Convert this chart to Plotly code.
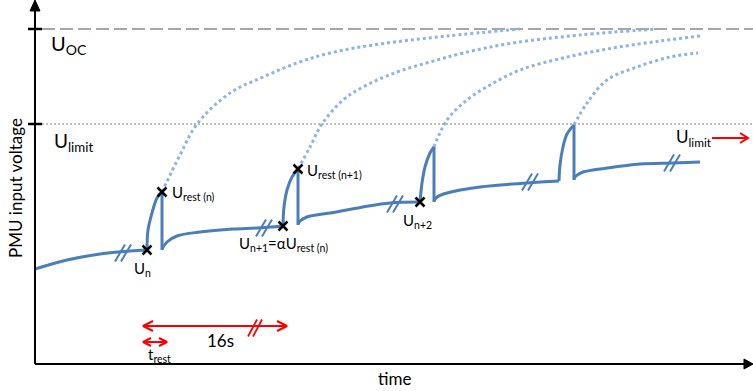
import plotly.graph_objects as go

# ---------------- data (px-like units: time →, voltage ↓ screen) ----
BLUE = "#4A7EBB"
LIGHT = "#8DB4E2"
GRAY = "#A6A6A6"
RED = "#FF0000"
FONT = "Lato"

AXIS_X = 35          # time origin
AXIS_Y = 364         # voltage origin (screen)
U_OC = 29
U_LIMIT = 124

# recovery (slow rise) segments
REC_T = [
    [35, 67, 100, 130, 147],
    [162, 167, 177, 200, 233, 257, 283],
    [298, 300, 307, 330, 363, 390, 420],
    [434, 437, 447, 480, 527, 559],
    [574, 576, 583, 607, 640, 673, 700],
]
REC_V = [
    [269, 260, 254, 251, 250],
    [249, 242, 236, 232, 229, 228, 226],
    [224, 221, 217, 213, 207, 203, 202],
    [201, 197, 193, 187, 183, 181],
    [179, 176, 172, 168, 164, 163, 162],
]
# charge spikes (fast rise during t_rest)
SPK_T = [
    [147, 148, 152, 157, 162],
    [283, 284, 287, 292, 298],
    [420, 422, 425, 430, 434],
    [559, 560, 563, 567, 574],
]
SPK_V = [
    [250, 230, 213, 198, 192],
    [226, 207, 190, 177, 169],
    [202, 183, 167, 153, 147],
    [181, 165, 147, 134, 125],
]
# voltage after the drop at the end of each rest
DROP_V = [250, 225, 202, 180]

# projected charging curves (dotted)
PROJ_T = [
    [162, 180, 197, 230, 263, 297, 330, 380, 447, 520],
    [298, 310, 322, 343, 363, 397, 430, 463, 513, 580, 657],
    [434, 447, 467, 490, 520, 563, 613, 660, 700],
    [574, 587, 607, 637, 670, 698],
]
PROJ_V = [
    [192, 155, 124, 93, 77, 63, 53, 44, 36, 29],
    [169, 147, 124, 100, 87, 72, 62, 53, 43, 35, 29],
    [147, 120, 100, 85, 70, 58, 48, 41, 36],
    [125, 103, 80, 67, 57, 53],
]

# marked points
MARK_T = [147, 162, 283, 298, 420]
MARK_V = [250, 192, 226, 169, 202]

# break symbols on the curve
BRK_T = [123, 264, 395, 530, 672]
BRK_V = [253, 228, 204, 182, 163]

# red interval arrows
ARR16_T = [143, 287]
ARR16_V = 326
ARR16_BRK = (255, 328)
TREST_T = [143, 167]
TREST_V = 342
ULIM_ARR_T = [712, 748]
ULIM_ARR_V = 138

fig = go.Figure()


def line(x, y, color, width, dash="solid", shape="linear", fill=None):
    fig.add_trace(go.Scatter(
        x=x, y=y, mode="lines", hoverinfo="skip", showlegend=False,
        line=dict(color=color, width=width, dash=dash, shape=shape),
        fill=fill, fillcolor=color if fill else None))


# reference levels
line([42, 753], [U_OC, U_OC], GRAY, 2, dash="13px,5px")
line([42, 753], [U_LIMIT, U_LIMIT], GRAY, 1.5, dash="2px,2px")

# projected dotted curves
for t, v in zip(PROJ_T, PROJ_V):
    line(t, v, LIGHT, 3, dash="dot", shape="spline")

# main curve
for t, v in zip(REC_T, REC_V):
    line(t, v, BLUE, 3, shape="spline")
for t, v, dv in zip(SPK_T, SPK_V, DROP_V):
    line(t, v, BLUE, 3, shape="spline")
    line([t[-1], t[-1]], [v[-1], dv], BLUE, 3)

# break symbols
for cx, cy in zip(BRK_T, BRK_V):
    for off in (-3, 3):
        line([cx - 5 + off, cx + 5 + off], [cy + 8.5, cy - 8.5], BLUE, 2)

# markers
fig.add_trace(go.Scatter(
    x=MARK_T, y=MARK_V, mode="markers", hoverinfo="skip", showlegend=False,
    marker=dict(symbol="x-thin", size=9, line=dict(color="black", width=2.5))))

# axes
line([AXIS_X, AXIS_X], [AXIS_Y, 9], "black", 2)
line([AXIS_X, 747], [AXIS_Y, AXIS_Y], "black", 2)
line([AXIS_X - 5, AXIS_X, AXIS_X + 5, AXIS_X - 5], [11, 0, 11, 11], "black", 1, fill="toself")
line([744, 753, 744, 744], [AXIS_Y - 5, AXIS_Y, AXIS_Y + 5, AXIS_Y - 5], "black", 1, fill="toself")
for lv in (U_OC, U_LIMIT):
    line([28, 42], [lv, lv], "black", 2.5)


# red arrows
def chevron(tx, ty, direction, dx, dy):
    line([tx - direction * dx, tx, tx - direction * dx], [ty - dy, ty, ty + dy], RED, 2)


line(ARR16_T, [ARR16_V, ARR16_V], RED, 2)
chevron(ARR16_T[0], ARR16_V, -1, 10, 5)
chevron(ARR16_T[1], ARR16_V, 1, 10, 5)
for off in (-2.5, 2.5):
    bx, by = ARR16_BRK
    line([bx - 4.5 + off, bx + 4.5 + off], [by + 8.5, by - 8.5], RED, 1.8)

line(TREST_T, [TREST_V, TREST_V], RED, 2)
chevron(TREST_T[0], TREST_V, -1, 8, 4)
chevron(TREST_T[1], TREST_V, 1, 8, 4)

line(ULIM_ARR_T, [ULIM_ARR_V, ULIM_ARR_V], RED, 2)
chevron(ULIM_ARR_T[1], ULIM_ARR_V, 1, 8, 5)

# labels
LABELS = [
    ("U<sub>OC</sub>", 49, 44, 20),
    ("U<sub>limit</sub>", 52, 142, 19),
    ("U<sub>limit</sub>", 674, 138, 17),
    ("U<sub>rest (n)</sub>", 170, 193, 15),
    ("U<sub>rest (n+1)</sub>", 305, 171, 15),
    ("U<sub>n</sub>", 132, 269, 15),
    ("U<sub>n+1</sub>=αU<sub>rest (n)</sub>", 237, 244, 15),
    ("U<sub>n+2</sub>", 401, 221, 15),
    ("16s", 205, 340, 17),
    ("t<sub>rest</sub>", 146, 355, 15),
]
for txt, x, y, s in LABELS:
    fig.add_annotation(x=x, y=y, text=txt, showarrow=False, xanchor="left",
                       yanchor="middle", font=dict(family=FONT, size=s, color="black"))

fig.add_annotation(x=394, y=378, text="time", showarrow=False, xanchor="center",
                   yanchor="middle", font=dict(family=FONT, size=17, color="black"))
fig.add_annotation(x=15, y=188, text="PMU input voltage", showarrow=False, textangle=-90,
                   xanchor="center", yanchor="middle",
                   font=dict(family=FONT, size=17, color="black"))

fig.update_layout(
    width=753, height=391, margin=dict(l=0, r=0, t=0, b=0),
    paper_bgcolor="white", plot_bgcolor="white",
    xaxis=dict(range=[0, 753], visible=False, fixedrange=True),
    yaxis=dict(range=[391, 0], visible=False, fixedrange=True),
)
fig.write_html("out.html", config={"displayModeBar": False},
               post_script="document.body.style.margin='0';")
